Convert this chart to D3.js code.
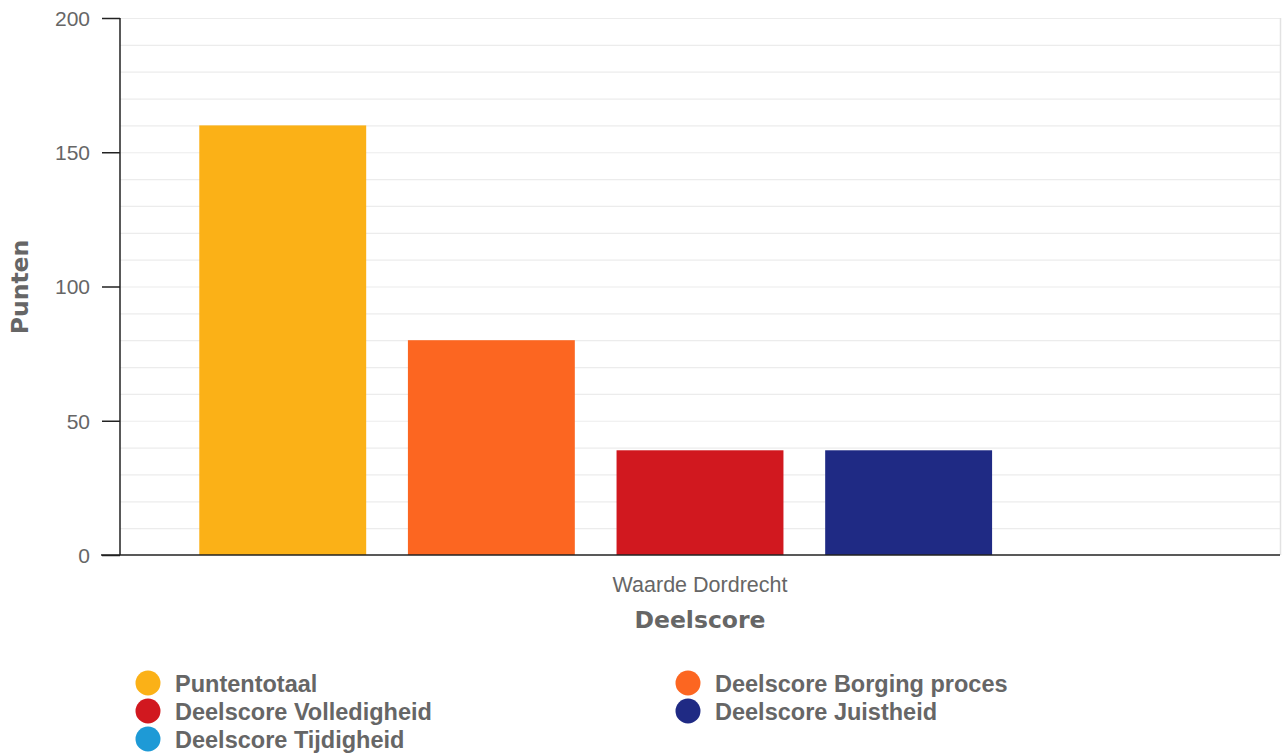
<!DOCTYPE html>
<html>
<head>
<meta charset="utf-8">
<script src="https://cdn.jsdelivr.net/npm/d3@7"></script>
<style>
  html, body { margin: 0; padding: 0; background: #fff; }
  svg { display: block; font-family: "Liberation Sans", Arial, sans-serif; }
</style>
</head>
<body>
<svg id="chart" width="1285" height="756"></svg>
<script>
const categories = ["Waarde Dordrecht"];
const seriesNames = ["Puntentotaal", "Deelscore Borging proces", "Deelscore Volledigheid", "Deelscore Juistheid", "Deelscore Tijdigheid"];
const seriesValues = [160, 80, 39, 39, 0];
const seriesColors = ["#fbb117", "#fc6621", "#d1181f", "#1f2a84", "#1e9ad6"];
const yTicks = [0, 50, 100, 150, 200];
const legendOrder = ["Puntentotaal", "Deelscore Borging proces", "Deelscore Volledigheid", "Deelscore Juistheid", "Deelscore Tijdigheid"];

(function () {
const svg = d3.select("#chart");
const mLeft = 120, mRight = 1280, mTop = 18, mBottom = 555;
const sans = "'Liberation Sans', Arial, sans-serif";
const titleFont = "'DejaVu Sans', Verdana, sans-serif";

const y = d3.scaleLinear().domain([0, 200]).range([mBottom, mTop]);
const x0 = d3.scaleBand().domain(categories).range([mLeft, mRight]).padding(0);
const x1 = d3.scaleBand().domain(seriesNames).range([0, x0.bandwidth()])
  .paddingInner(0.2).paddingOuter(0.38);

// minor grid
const grid = d3.range(10, 201, 10);
svg.append("g").selectAll("line").data(grid).join("line")
  .attr("x1", mLeft).attr("x2", mRight)
  .attr("y1", d => y(d) + 0.5).attr("y2", d => y(d) + 0.5)
  .attr("stroke", "#ececec").attr("stroke-width", 1.2);

// right border
svg.append("line").attr("x1", mRight + 0.5).attr("x2", mRight + 0.5)
  .attr("y1", mTop).attr("y2", mBottom).attr("stroke", "#e2e2e2").attr("stroke-width", 1.5);

// bars
const g = svg.append("g");
categories.forEach(cat => {
  g.selectAll("rect.b").data(seriesNames.map((s, i) => ({ s, v: seriesValues[i], c: seriesColors[i] })))
    .join("rect")
    .attr("x", d => x0(cat) + x1(d.s))
    .attr("width", x1.bandwidth())
    .attr("y", d => y(d.v))
    .attr("height", d => y(0) - y(d.v))
    .attr("fill", d => d.c);
});

// y axis
const yAxis = d3.axisLeft(y).tickValues(yTicks).tickSize(18).tickPadding(12);
const ya = svg.append("g").attr("transform", `translate(${mLeft},0)`).call(yAxis);
ya.select(".domain").attr("stroke", "#222").attr("stroke-width", 1.5).attr("d", `M0,${mTop}V${mBottom}`);
ya.selectAll(".tick line").attr("stroke", "#222").attr("stroke-width", 1.5);
ya.selectAll(".tick text").attr("fill", "#666").attr("font-size", 21)
  .attr("font-family", sans).attr("dy", "0.35em");

// x axis
const xAxis = d3.axisBottom(x0).tickSize(0).tickPadding(0);
const xa = svg.append("g").attr("transform", `translate(0,${mBottom})`).call(xAxis);
xa.select(".domain").attr("stroke", "#222").attr("stroke-width", 1.5).attr("d", `M${mLeft - 19},0H${mRight}`);
xa.selectAll(".tick text").attr("fill", "#666").attr("font-size", 21.5)
  .attr("font-family", sans).attr("y", 37).attr("dy", 0);

// axis titles
svg.append("text").attr("x", (mLeft + mRight) / 2).attr("y", 628)
  .attr("text-anchor", "middle").attr("font-size", 23.5).attr("font-weight", "bold")
  .attr("font-family", titleFont).attr("fill", "#666").text("Deelscore");
svg.append("text").attr("transform", `translate(28,287) rotate(-90)`)
  .attr("text-anchor", "middle").attr("font-size", 23.5).attr("font-weight", "bold")
  .attr("font-family", titleFont).attr("fill", "#666").text("Punten");

// legend
const colX = [148, 688];
const leg = svg.append("g");
legendOrder.forEach((name, i) => {
  const idx = seriesNames.indexOf(name);
  const cx = colX[i % 2];
  const cy = 683 + Math.floor(i / 2) * 28;
  leg.append("circle").attr("cx", cx).attr("cy", cy).attr("r", 12.5).attr("fill", seriesColors[idx]);
  leg.append("text").attr("x", cx + 27).attr("y", cy + 9)
    .attr("font-size", 23.5).attr("font-weight", "bold").attr("font-family", sans)
    .attr("fill", "#666").text(name);
});
})();
</script>
</body>
</html>
